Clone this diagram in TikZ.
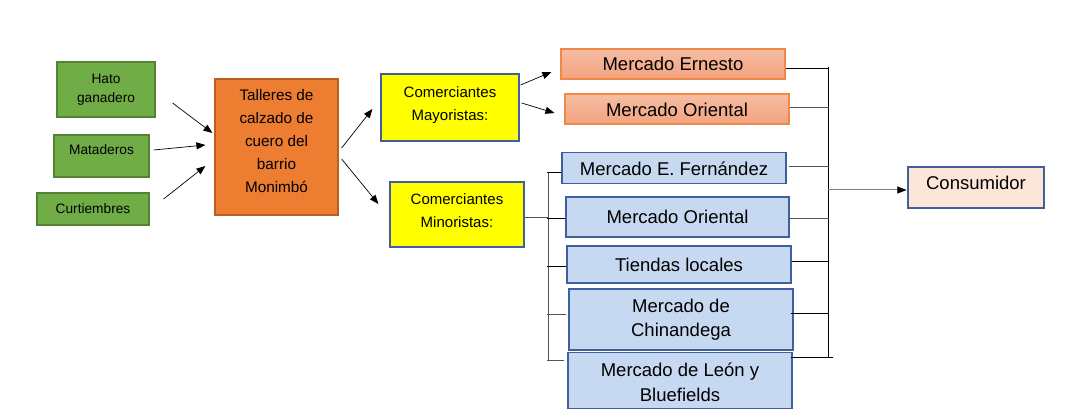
\documentclass[tikz,border=0pt]{standalone}
\usepackage{fontspec}
\setmainfont{Liberation Sans}
\usetikzlibrary{arrows.meta,calc}
\definecolor{grn}{HTML}{70AD47}
\definecolor{grnD}{HTML}{548235}
\definecolor{org}{HTML}{ED7D31}
\definecolor{orgD}{HTML}{B85F24}
\definecolor{yel}{HTML}{FFFF00}
\definecolor{bluD}{HTML}{3F5F9F}
\definecolor{salT}{HTML}{F6BDA3}
\definecolor{salB}{HTML}{F3A37F}
\definecolor{salD}{HTML}{F08848}
\definecolor{blu}{HTML}{C6D9F1}
\definecolor{cons}{HTML}{FCE6D8}
\definecolor{lin}{HTML}{555555}
% shift text inside a box: #1 = 2x upward shift, #2 = 2x downward shift
\newcommand\shtxt[3]{\raisebox{0pt}[\dimexpr\height+#2\relax][\dimexpr\depth+#1\relax]{\begin{tabular}{@{}c@{}}#3\end{tabular}}}
\begin{document}
\begin{tikzpicture}[x=1pt,y=-1pt,
  box/.style={draw, line width=1.2pt, inner sep=0pt, align=center, anchor=center},
  greenbox/.style={box, fill=grn, draw=grnD, font=\fontsize{13.7}{19}\selectfont},
  orangebox/.style={box, fill=org, draw=orgD, font=\fontsize{15.3}{23}\selectfont},
  yellowbox/.style={box, fill=yel, draw=bluD, font=\fontsize{15}{23}\selectfont},
  salmonbox/.style={box, top color=salT, bottom color=salB, draw=salD, font=\fontsize{18.5}{24.5}\selectfont},
  bluebox/.style={box, fill=blu, draw=bluD, font=\fontsize{18.5}{24.5}\selectfont},
  consbox/.style={box, fill=cons, draw=bluD, font=\fontsize{18.5}{24.5}\selectfont},
  arr/.style={-{Triangle[length=9pt,width=7pt]}, line width=0.7pt, draw=black},
  conn/.style={line width=1pt, draw=lin},
  connb/.style={line width=0.9pt, draw=black}
]
\useasboundingbox (0,0) rectangle (1074,414);

% sources
\node[greenbox, minimum width=98pt, minimum height=55pt] (hato) at (106,89.5) {Hato\\ganadero};
\node[greenbox, minimum width=95pt, minimum height=42pt] (mat) at (101.5,156) {\shtxt{10pt}{0pt}{Mataderos}};
\node[greenbox, minimum width=112pt, minimum height=32pt] (cur) at (93,209) {Curtiembres};
\node[orangebox, minimum width=123pt, minimum height=136pt] (tal) at (276.5,147) {\shtxt{10pt}{0pt}{Talleres de\\calzado de\\cuero del\\barrio\\Monimbó}};

% traders
\node[yellowbox, minimum width=138pt, minimum height=67pt] (may) at (450,107.5) {\shtxt{6pt}{0pt}{Comerciantes\\Mayoristas:}};
\node[yellowbox, minimum width=134pt, minimum height=65pt] (min) at (457,214.5) {\shtxt{6pt}{0pt}{Comerciantes\\Minoristas:}};

% markets
\node[salmonbox, minimum width=224pt, minimum height=30pt] (ern) at (673,64) {\shtxt{0pt}{4pt}{Mercado Ernesto}};
\node[salmonbox, minimum width=224pt, minimum height=30pt] (oro) at (677,109) {\shtxt{0pt}{5pt}{Mercado Oriental}};
\node[bluebox, minimum width=224pt, minimum height=30pt] (fer) at (674,168) {\shtxt{0pt}{6pt}{Mercado E. Fernández}};
\node[bluebox, minimum width=223pt, minimum height=40pt] (ob) at (677.5,217) {Mercado Oriental};
\node[bluebox, minimum width=224pt, minimum height=37pt] (tie) at (679,264.5) {Tiendas locales};
\node[bluebox, minimum width=224pt, minimum height=61pt] (chi) at (681,319.5) {Mercado de\\Chinandega};
\node[bluebox, minimum width=224pt, minimum height=55pt] (leo) at (680,380.5) {\shtxt{0pt}{7pt}{Mercado de León y\\Bluefields}};

\node[consbox, minimum width=136pt, minimum height=41pt] (con) at (976,187.5) {\shtxt{6pt}{0pt}{Consumidor}};

% arrows into talleres
\draw[arr] ($(hato.east)+(17,13.5)$) -- ($(tal.west)+(-2,-14)$);
\draw[arr] ($(mat.east)+(4,-6)$) -- ($(tal.west)+(-9,-2)$);
\draw[arr] ($(cur.east)+(14,-10)$) -- ($(tal.west)+(-9,19)$);

% talleres to traders
\draw[arr] ($(tal.east)+(3,1)$) -- ($(may.west)+(-8,1.5)$);
\draw[arr] ($(tal.east)+(3,12)$) -- ($(min.west)+(-11,-10.5)$);

% mayoristas to markets
\draw[arr] ($(may.east)+(1,-22.5)$) -- ($(ern.west)+(-9,8)$);
\draw[arr] ($(may.east)+(2,-4.5)$) -- ($(oro.west)+(-10,4)$);

% minoristas bus
\coordinate (lbt) at (548,172);
\coordinate (lbb) at (548,360);
\draw[conn] (lbt) -- (lbb);
\draw[conn] ($(min.east)+(0,3.5)$) -- ++(24,0);
\draw[connb] ($(fer.west)+(0,4)$) -- ++(-14,0);
\draw[connb] ($(ob.west)+(0,1)$) -- ++(-18,0);
\draw[connb] ($(tie.west)+(0,1.5)$) -- ++(-19,0);
\draw[conn] ($(chi.west)+(-2,-5.5)$) -- ++(-19,0);
\draw[conn] ($(leo.west)+(-3,-20.5)$) -- ++(-17,0);

% consumer bus
\coordinate (rbt) at (828,67);
\coordinate (rbb) at (828,357);
\coordinate (rbm) at (828,190);
\draw[connb] (rbt) -- (rbb);
\draw[connb] ($(ern.east)+(0,4)$) -- ++(43,0);
\draw[conn] ($(oro.east)+(0,-1)$) -- ++(39,0);
\draw[conn] ($(fer.east)+(2,-1)$) -- ++(40,0);
\draw[conn] ($(ob.east)+(0,2)$) -- ++(39,0);
\draw[connb] ($(tie.east)+(0,-3.5)$) -- ++(37,0);
\draw[connb] ($(chi.east)+(-3,-6.5)$) -- ++(38,0);
\draw[connb] ($(leo.east)+(-2,-23.5)$) -- ++(42,0);
\draw[-{Triangle[length=9pt,width=7pt]}, line width=1pt, draw=gray, color=gray] (rbm) -- ($(con.west)+(-1,2.5)$);
\fill[black] ($(con.west)+(-1,2.5)$) -- ++(-9,-3.5) -- ++(0,7) -- cycle;
\end{tikzpicture}
\end{document}
